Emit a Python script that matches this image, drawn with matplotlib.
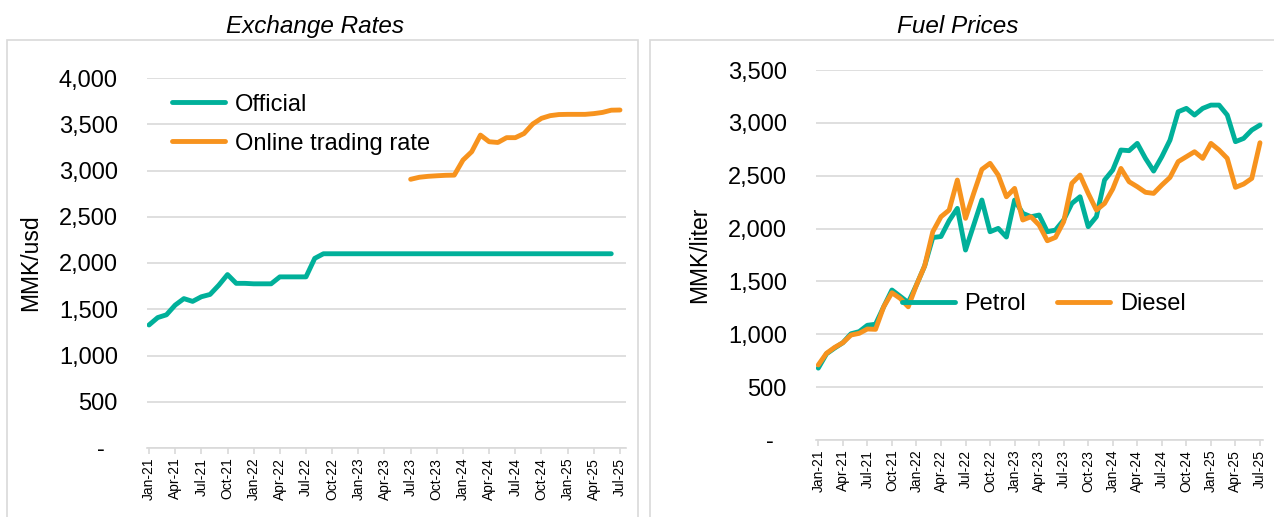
import numpy as np
import matplotlib
matplotlib.use('Agg')
import matplotlib.pyplot as plt
from matplotlib.ticker import FuncFormatter, MultipleLocator
from matplotlib.patches import Rectangle

plt.rcParams['font.family'] = ['Liberation Sans', 'DejaVu Sans']

# month index 0 = Jan-21 ... 54 = Jul-25
tick_labels = ['Jan-21', 'Apr-21', 'Jul-21', 'Oct-21', 'Jan-22', 'Apr-22', 'Jul-22', 'Oct-22',
               'Jan-23', 'Apr-23', 'Jul-23', 'Oct-23', 'Jan-24', 'Apr-24', 'Jul-24', 'Oct-24',
               'Jan-25', 'Apr-25', 'Jul-25']
n_months = 55

# exchange rates (MMK per USD)
official = [1330, 1410, 1440, 1545, 1615, 1585, 1635, 1660, 1760, 1875,
            1780, 1780, 1775, 1775, 1775, 1850, 1850, 1850, 1850, 2050,
            2100, 2100, 2100, 2100, 2100, 2100, 2100, 2100, 2100, 2100,
            2100, 2100, 2100, 2100, 2100, 2100, 2100, 2100, 2100, 2100,
            2100, 2100, 2100, 2100, 2100, 2100, 2100, 2100, 2100, 2100,
            2100, 2100, 2100, 2100]  # Jan-21 .. Jun-25
online_start = 30  # Jul-23
online = [2905, 2927, 2937, 2943, 2948, 2950, 3113, 3203, 3383, 3311,
          3303, 3355, 3355, 3400, 3503, 3564, 3593, 3605, 3607, 3607,
          3607, 3615, 3628, 3652, 3654]  # Jul-23 .. Jul-25

# fuel prices (MMK per liter)
petrol = [680, 815, 870, 920, 1005, 1025, 1085, 1095, 1261, 1419,
          1360, 1300, 1466, 1646, 1915, 1925, 2075, 2191, 1797, 2033,
          2270, 1970, 2002, 1920, 2270, 2144, 2112, 2128, 1970, 1986,
          2081, 2238, 2301, 2018, 2112, 2459, 2554, 2743, 2737, 2806,
          2664, 2544, 2680, 2837, 3105, 3137, 3074, 3137, 3168, 3168,
          3074, 2822, 2853, 2932, 2979]
diesel = [710, 820, 876, 920, 993, 1009, 1050, 1047, 1261, 1393,
          1340, 1260, 1466, 1646, 1970, 2112, 2175, 2459, 2097, 2333,
          2560, 2617, 2506, 2301, 2380, 2081, 2112, 2033, 1885, 1917,
          2065, 2428, 2506, 2333, 2175, 2238, 2375, 2569, 2443, 2396,
          2343, 2333, 2412, 2484, 2633, 2680, 2727, 2664, 2806, 2743,
          2664, 2390, 2421, 2475, 2812]

teal = '#00b09a'
orange = '#f7931e'
grid_c = '#d9d9d9'

W, H = 1274, 517
fig = plt.figure(figsize=(W / 100, H / 100), dpi=100)


def px_box(x0, y0, x1, y1):
    # pixel coords (top-left origin) -> figure fraction rect
    return [x0 / W, 1 - y1 / H, (x1 - x0) / W, (y1 - y0) / H]


def thousands(v, pos):
    if abs(v) < 1e-6:
        return '-  '
    return '{:,.0f}'.format(v)


def style_axes(ax, ymax, xlim):
    ax.set_xlim(*xlim)
    ax.set_ylim(0, ymax)
    ax.yaxis.set_major_locator(MultipleLocator(500))
    ax.yaxis.set_major_formatter(FuncFormatter(thousands))
    ax.grid(axis='y', color=grid_c, linewidth=1.2)
    ax.set_axisbelow(True)
    for s in ['top', 'right', 'left']:
        ax.spines[s].set_visible(False)
    ax.spines['bottom'].set_color(grid_c)
    ax.spines['bottom'].set_linewidth(1.2)
    ax.set_xticks(np.arange(0, n_months, 3))
    ax.set_xticklabels(tick_labels, rotation=90, fontsize=10)
    ax.tick_params(axis='x', length=4, color=grid_c, width=1.2, pad=3)
    ax.tick_params(axis='y', length=0, pad=21, labelsize=17)


# panel frames
fig.patches.append(Rectangle((7 / W, -0.1), (638 - 7) / W, 1.1 - 40 / H, transform=fig.transFigure,
                             fill=False, edgecolor=grid_c, linewidth=1.2))
fig.patches.append(Rectangle((650 / W, -0.1), 1.0, 1.1 - 40 / H, transform=fig.transFigure,
                             fill=False, edgecolor=grid_c, linewidth=1.2))

x = np.arange(n_months)

# Exchange rates
ax1 = fig.add_axes(px_box(147, 78, 626, 448))
style_axes(ax1, 4000, (-0.23, 54.69))
ax1.plot(x[:len(official)], official, color=teal, linewidth=3.5, solid_capstyle='round',
         label='Official')
ax1.plot(x[online_start:online_start + len(online)], online, color=orange, linewidth=3.5,
         solid_capstyle='round', label='Online trading rate')
ax1.legend(loc='upper left', bbox_to_anchor=(0.027, 0.99), frameon=False, fontsize=17,
           handlelength=2.25, handletextpad=0.42, labelspacing=0.72, borderpad=0)
fig.text(315 / W, 1 - 27 / H, 'Exchange Rates', ha='center', va='center', fontsize=17.5,
         style='italic')
fig.text(31 / W, 1 - 263 / H, 'MMK/usd', rotation=90, ha='center', va='center', fontsize=16.5)

# Fuel prices
ax2 = fig.add_axes(px_box(816, 70, 1263, 440))
style_axes(ax2, 3500, (-0.28, 54.37))
ax2.plot(x, petrol, color=teal, linewidth=3.5, solid_capstyle='round', label='Petrol')
ax2.plot(x, diesel, color=orange, linewidth=3.5, solid_capstyle='round', label='Diesel')
ax2.legend(loc='center left', bbox_to_anchor=(0.165, 0.368), frameon=False, fontsize=17,
           ncol=2, handlelength=2.25, handletextpad=0.42, columnspacing=1.3, borderpad=0)
fig.text(958 / W, 1 - 27 / H, 'Fuel Prices', ha='center', va='center', fontsize=17.5,
         style='italic')
fig.text(700 / W, 1 - 255 / H, 'MMK/liter', rotation=90, ha='center', va='center', fontsize=16.5)

fig.savefig('out.png', dpi=100)
plt.close()
